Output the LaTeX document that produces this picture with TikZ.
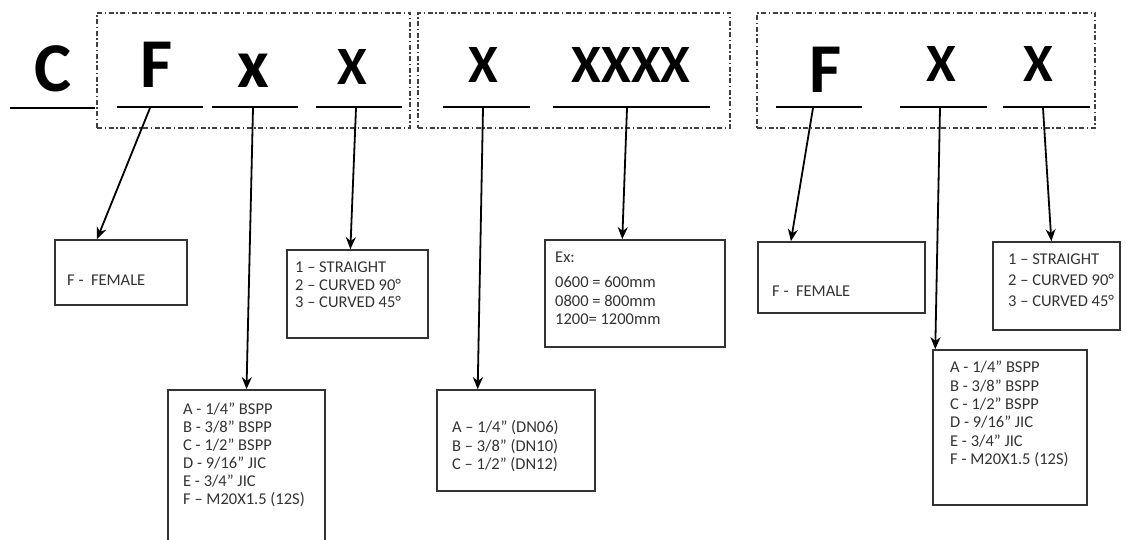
\documentclass[tikz,border=0pt]{standalone}
\usepackage{fontspec}
\setmainfont{Carlito}
\usetikzlibrary{arrows.meta,calc}
\begin{document}
\begin{tikzpicture}[x=1pt,y=-1pt,
  big/.style={inner sep=0pt, anchor=base, font=\fontsize{70}{70}\selectfont\bfseries},
  mid/.style={inner sep=0pt, anchor=base, font=\fontsize{54}{54}\selectfont\bfseries},
  lowx/.style={inner sep=0pt, anchor=base, font=\fontsize{69}{69}\selectfont\bfseries},
  uline/.style={line width=2.6pt},
  grp/.style={draw=black!75, line width=1.3pt, dash pattern=on 5pt off 2.5pt on 1.5pt off 2.5pt, inner sep=0pt},
  box/.style={draw=black!80, line width=1.7pt, inner sep=0pt},
  txt/.style={inner sep=0pt, anchor=base west, font=\fontsize{16.5}{18}\selectfont, text=black!80},
  arr/.style={line width=1.8pt, -{Stealth[length=12pt,width=10pt]}}]
\useasboundingbox (0,0) rectangle (1126,540);
\clip (0,0) rectangle (1126,540);
\fill[white] (0,0) rectangle (1126,540);

% group boxes
\node[grp, minimum width=313pt, minimum height=115pt] (g1) at (253.5,70.5) {};
\node[grp, minimum width=312pt, minimum height=115pt] (g2) at (574,70.5) {};
\node[grp, minimum width=338pt, minimum height=115pt] (g3) at (926,70.5) {};

% code letters
\node[big] (lC) at (53,92) {C};
\node[big] (lF1) at (157,88) {F};
\node[lowx] (lx1) at (253,88) {x};
\node[mid] (lX1) at (352,85) {X};
\node[mid] (lX2) at (483,83) {X};
\node[mid] (lX3) at (631,83) {XXXX};
\node[big] (lF2) at (826,93) {F};
\node[mid] (lX4) at (941,82) {X};
\node[mid] (lX5) at (1038,82) {X};

% underlines
\draw[uline] (10,108) -- (95,108);
\draw[uline] (117,107) -- (203,107);
\draw[uline] (212,107) -- (298,107);
\draw[uline] (316,107) -- (402,107);
\draw[uline] (443,107) -- (530,107);
\draw[uline] (553,107) -- (710,107);
\draw[uline] (776,107) -- (862,107);
\draw[uline] (900,107) -- (987,107);
\draw[uline] (1003,107) -- (1090,107);

\coordinate (pF1) at (150,108);
\coordinate (px1) at (253,108);
\coordinate (pX1) at (356,108);
\coordinate (pX2) at (483,108);
\coordinate (pX3) at (627,108);
\coordinate (pF2) at (813,108);
\coordinate (pX4) at (940,108);
\coordinate (pX5) at (1043,108);

% boxes
\node[box, minimum width=132pt, minimum height=65pt] (f1) at (121,272.5) {};
\node[box, minimum width=157pt, minimum height=170pt] (fit1) at (246.5,475) {};
\node[box, minimum width=141pt, minimum height=88pt] (s1) at (357.5,294) {};
\node[box, minimum width=158pt, minimum height=101pt] (dn) at (516,440.5) {};
\node[box, minimum width=180pt, minimum height=107pt] (ex) at (635,293.5) {};
\node[box, minimum width=167pt, minimum height=71pt] (f2) at (841.5,277.5) {};
\node[box, minimum width=127pt, minimum height=88pt] (s2) at (1056.5,286) {};
\node[box, minimum width=154pt, minimum height=155pt] (fit2) at (1010,427.5) {};

% texts
\node[txt] (tf1) at (67,285) {F -\ \ FEMALE};
\node[txt] (ts1a) at (295,272) {1 – STRAIGHT};
\node[txt] (ts1b) at (295,290) {2 – CURVED 90°};
\node[txt] (ts1c) at (295,307) {3 – CURVED 45°};
\node[txt] (tfa) at (183,414) {A - 1/4” BSPP};
\node[txt] (tfb) at (183,432) {B - 3/8” BSPP};
\node[txt] (tfc) at (183,450) {C - 1/2” BSPP};
\node[txt] (tfd) at (183,468) {D - 9/16” JIC};
\node[txt] (tfe) at (183,486) {E - 3/4” JIC};
\node[txt] (tff) at (183,504) {F – M20X1.5 (12S)};
\node[txt] (tda) at (452,432) {A – 1/4” (DN06)};
\node[txt] (tdb) at (452,451) {B – 3/8” (DN10)};
\node[txt] (tdc) at (452,469) {C – 1/2” (DN12)};
\node[txt] (tea) at (555,262) {Ex:};
\node[txt] (teb) at (555,287) {0600 = 600mm};
\node[txt] (tec) at (555,306) {0800 = 800mm};
\node[txt] (ted) at (555,324) {1200= 1200mm};
\node[txt] (tf2) at (772,296) {F -\ \ FEMALE};
\node[txt] (ts2a) at (1008,264) {1 – STRAIGHT};
\node[txt] (ts2b) at (1008,285) {2 – CURVED 90°};
\node[txt] (ts2c) at (1008,306) {3 – CURVED 45°};
\node[txt] (tga) at (950,372) {A - 1/4” BSPP};
\node[txt] (tgb) at (950,391) {B - 3/8” BSPP};
\node[txt] (tgc) at (950,409) {C - 1/2” BSPP};
\node[txt] (tgd) at (950,427) {D - 9/16” JIC};
\node[txt] (tge) at (950,446) {E - 3/4” JIC};
\node[txt] (tgf) at (950,464) {F - M20X1.5 (12S)};

% arrows
\draw[arr] (pF1) -- ($(f1.north west)!0.32!(f1.north east)$);
\draw[arr] (px1) -- ($(fit1.north west)!0.50!(fit1.north east)$);
\draw[arr] (pX1) -- ($(s1.north west)!0.45!(s1.north east)$);
\draw[arr] (pX2) -- ($(dn.north west)!0.26!(dn.north east)$);
\draw[arr] (pX3) -- ($(ex.north west)!0.43!(ex.north east)$);
\draw[arr] (pF2) -- ($(f2.north west)!0.20!(f2.north east)$);
\draw[arr] (pX4) -- ($(fit2.north west)!0.02!(fit2.north east)$);
\draw[arr] (pX5) -- ($(s2.north west)!0.46!(s2.north east)$);
\end{tikzpicture}
\end{document}
